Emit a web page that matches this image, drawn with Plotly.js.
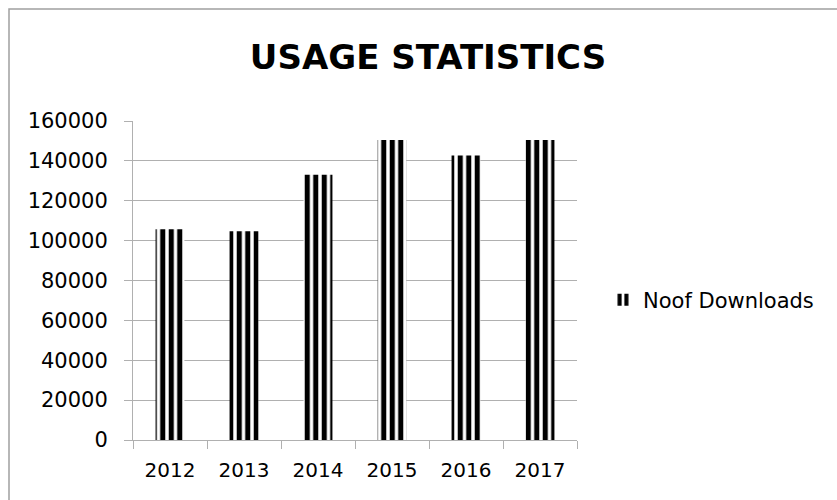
<!DOCTYPE html>
<html>
<head>
<meta charset="utf-8">
<script src="https://cdn.plot.ly/plotly-3.0.1.min.js"></script>
<style>
html, body { margin: 0; padding: 0; background: #fff; }
#chart { width: 837px; height: 500px; }
</style>
</head>
<body>
<div id="chart"></div>
<script>
const years = ['2012', '2013', '2014', '2015', '2016', '2017'];
const downloads = [105700, 104700, 133000, 150500, 142700, 150500];
const seriesName = 'Noof Downloads';
const yTicks = [0, 20000, 40000, 60000, 80000, 100000, 120000, 140000, 160000];
const chartTitle = 'USAGE STATISTICS';

const gray = '#b0b0b0';
const font = 'DejaVu Sans, Verdana, sans-serif';

const trace = {
  type: 'bar',
  x: years,
  y: downloads,
  name: seriesName,
  showlegend: true,
  marker: {
    color: 'black',
    line: { width: 0 },
    pattern: { shape: '|', size: 8.5, solidity: 0.6, fgcolor: 'black', bgcolor: 'white' }
  },
  hoverinfo: 'x+y'
};

// plot area in pixels: x 133..577, y 121..440
const L = 133, R = 577, T = 121, B = 440;
const px = v => (v - L) / (R - L);
const py = v => (B - v) / (B - T);

const layout = {
  width: 837,
  height: 500,
  margin: { l: L, r: 837 - R, t: T, b: 500 - B },
  paper_bgcolor: 'white',
  plot_bgcolor: 'white',
  font: { family: font, color: '#000', size: 20 },
  title: {
    text: chartTitle,
    font: { family: font, size: 34, weight: 'bold', color: '#000' },
    x: 428 / 837, xref: 'container', xanchor: 'center',
    y: 1 - 57 / 500, yref: 'container', yanchor: 'middle'
  },
  bargap: 0.61,
  xaxis: {
    type: 'category',
    showline: true, linecolor: gray, linewidth: 1,
    ticks: 'outside', tickson: 'boundaries', ticklen: 8, tickcolor: gray, tickwidth: 1,
    showgrid: false, zeroline: false,
    tickfont: { family: font, size: 20, color: '#000' },
    ticklabelstandoff: 12,
    fixedrange: true
  },
  yaxis: {
    range: [0, 160000],
    tickvals: yTicks,
    tickformat: 'd',
    showline: true, linecolor: gray, linewidth: 1,
    ticks: 'outside', ticklen: 8, tickcolor: gray, tickwidth: 1,
    showgrid: true, gridcolor: gray, gridwidth: 1,
    zeroline: false,
    tickfont: { family: font, size: 21, color: '#000' },
    ticklabelstandoff: 12,
    fixedrange: true
  },
  legend: {
    x: px(603), xanchor: 'left',
    y: py(300), yanchor: 'middle',
    font: { family: font, size: 21, color: '#000' },
    bgcolor: 'rgba(0,0,0,0)'
  },
  shapes: [{
    type: 'rect', xref: 'paper', yref: 'paper', layer: 'below',
    x0: px(9), x1: px(900), y0: py(9), y1: py(560),
    line: { color: '#a0a0a0', width: 1.5 }, fillcolor: 'rgba(0,0,0,0)'
  }]
};

Plotly.newPlot('chart', [trace], layout, { displayModeBar: false, staticPlot: true });
</script>
</body>
</html>
